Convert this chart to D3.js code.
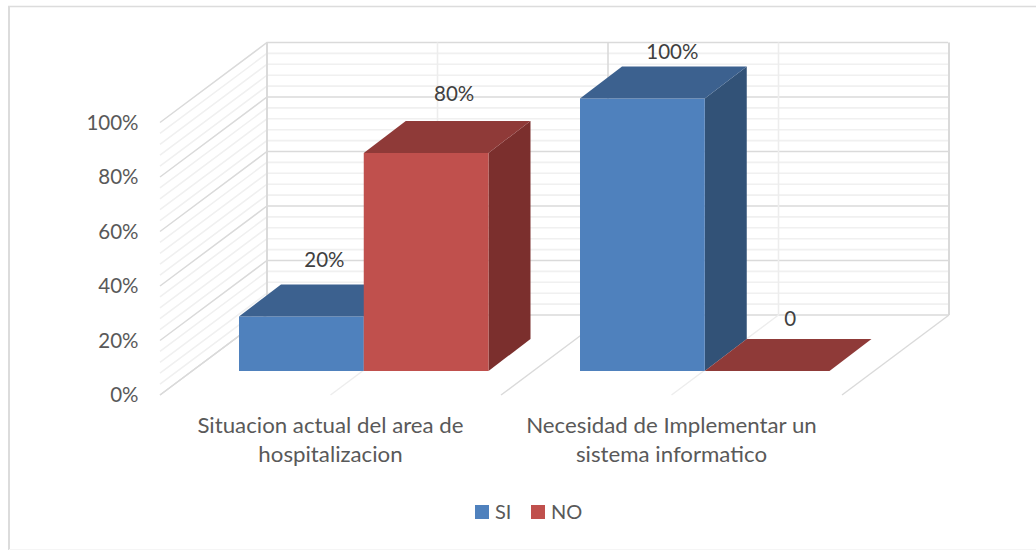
<!DOCTYPE html>
<html><head><meta charset="utf-8">
<script src="https://cdn.jsdelivr.net/npm/d3@7/dist/d3.min.js"></script>
<style>html,body{margin:0;padding:0;background:#fff}svg{display:block}text{font-family:Lato,"Open Sans",sans-serif}</style>
</head><body><svg id="c" width="1036" height="550"></svg>
<script>
const categories = [["Situacion actual del area de","hospitalizacion"],["Necesidad de Implementar un","sistema informatico"]];
const seriesNames = ["SI","NO"];
const siValues = [0.2,1];
const noValues = [0.8,0];
const siLabels = ["20%","100%"];
const noLabels = ["80%","0"];
const yTickValues = [0,0.2,0.4,0.6,0.8,1];
const minorTickValues = d3.range(0,1.001,0.04);
const frontColors = ["#4f81bd","#c0504d"];
const topColors = ["#3c618f","#8f3a38"];
const sideColors = ["#325277","#7b2f2d"];

const svg = d3.select("#c");
const W=1036,H=550;
const dx=107,dy=-80;               // floor depth vector of the 3D box
const barDx=42,barDy=-32;          // bar depth vector
const floorL=160,floorR=842,y0F=395,y1F=122.5;
const barBase=371;
const y = d3.scaleLinear().domain([0,1]).range([y0F,y1F]);
const yBar = v => barBase-(y0F-y(v));
const x0 = d3.scaleBand().domain([0,1]).range([floorL,floorR]);
const x1 = d3.scaleBand().domain([0,1]).range([79,328.5]);
// label offsets from the centre of each bar's front edge: [series][category]
const labelShift = [[[23,-25],[30,-15]],[[28,-27],[23,-20]]];

// chart border (top & left only)
svg.append("line").attr("x1",8).attr("x2",W).attr("y1",6.5).attr("y2",6.5).attr("stroke","#dcdcdc").attr("stroke-width",1.3);
svg.append("line").attr("x1",9).attr("x2",9).attr("y1",6).attr("y2",H).attr("stroke","#dcdcdc").attr("stroke-width",2);
svg.append("line").attr("x1",9).attr("x2",W).attr("y1",H-0.5).attr("y2",H-0.5).attr("stroke","#f5f5f5");

const walls=svg.append("g").attr("fill","none");
function hline(v,c,w){
  const yy=y(v);
  walls.append("path").attr("d",d3.line()([[floorL,yy],[floorL+dx,yy+dy],[floorR-1+dx,yy+dy]])).attr("stroke",c).attr("stroke-width",w);
}
minorTickValues.filter(v=>Math.round(v*100)%20!==0).forEach(v=>hline(v,"#f0f0f0",1.6));
yTickValues.forEach(v=>hline(v,"#dadada",1.5));
// vertical wall lines and floor dividers
const dividers=[0,0.5,1,1.5,2].map(i=>floorL+i*x0.bandwidth());
dividers.forEach((xx,i)=>{
  const major=i%2===0, c=major?"#dadada":"#ededed";
  walls.append("line").attr("x1",xx+dx).attr("x2",xx+dx).attr("y1",y(0)+dy).attr("y2",y(1)+dy).attr("stroke",c).attr("stroke-width",major&&i!==2?2:1.6);
  walls.append("line").attr("x1",xx).attr("y1",y0F).attr("x2",xx+dx).attr("y2",y0F+dy).attr("stroke",c).attr("stroke-width",1.4);
});
// bars
const bars=svg.append("g");
function bar(cat,s,v){
  const xa=x0(cat)+x1(s), xb=xa+x1.bandwidth(), t=yBar(v);
  const poly=(pts,f)=>bars.append("polygon").attr("points",pts.join(" ")).attr("fill",f);
  if(v>0){
    poly([[xb,t],[xb+barDx,t+barDy],[xb+barDx,barBase+barDy],[xb,barBase]],sideColors[s]);
    poly([[xa,t],[xb,t],[xb,barBase],[xa,barBase]],frontColors[s]);
  }
  poly([[xa,t],[xa+barDx,t+barDy],[xb+barDx,t+barDy],[xb,t]],topColors[s]);
}
[0,1].forEach(c=>{bar(c,0,siValues[c]);bar(c,1,noValues[c]);});
// data labels
const lab=svg.append("g").attr("font-size",20.5).attr("fill","#404040").attr("text-anchor","middle");
[0,1].forEach(c=>{
  [[0,siValues[c],siLabels[c]],[1,noValues[c],noLabels[c]]].forEach(([s,v,t])=>{
    const cx=x0(c)+x1(s)+x1.bandwidth()/2+labelShift[s][c][0];
    const cy=yBar(v)+barDy+labelShift[s][c][1];
    lab.append("text").attr("x",cx).attr("y",cy+7).text(t);
  });
});
// y axis
const axis=d3.axisLeft(y).tickValues(yTickValues).tickFormat(d3.format(".0%")).tickSize(0).tickPadding(0);
const ag=svg.append("g").attr("transform","translate(138.5,0)").call(axis);
ag.select(".domain").remove();
ag.selectAll("text").attr("font-size",20.5).attr("fill","#595959").style("font-family","Lato");
// category labels (stretched to the reference's wider face)
const cg=svg.append("g").attr("font-size",21).attr("fill","#595959").attr("text-anchor","middle");
categories.forEach((ls,c)=>ls.forEach((l,i)=>{
  const t=cg.append("text").attr("x",x0(c)+x0.bandwidth()/2).attr("y",433+i*29).text(l);
  t.attr("textLength",t.node().getComputedTextLength()*1.06).attr("lengthAdjust","spacingAndGlyphs");
}));
// legend
const lg=svg.append("g");
const lx=[475,531];
seriesNames.forEach((n,i)=>{
  lg.append("rect").attr("x",lx[i]).attr("y",505).attr("width",14).attr("height",14).attr("fill",frontColors[i]);
  lg.append("text").attr("x",lx[i]+20).attr("y",519).attr("font-size",20).attr("fill","#595959").text(n);
});
</script></body></html>
